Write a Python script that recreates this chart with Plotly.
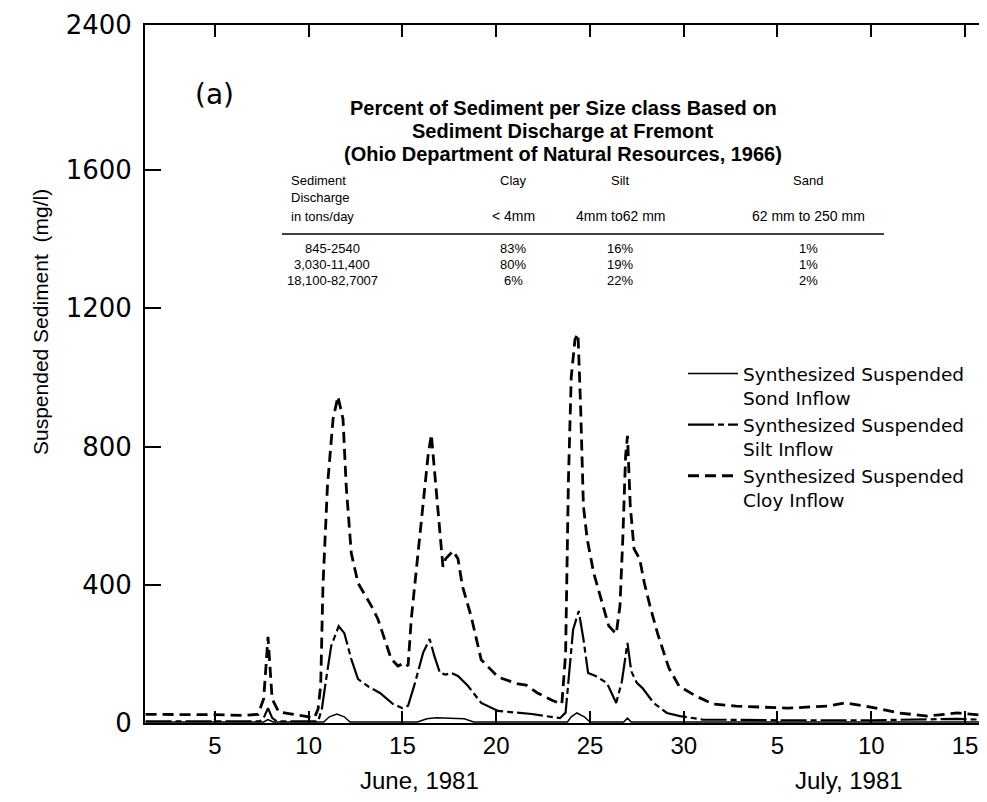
import plotly.graph_objects as go

# days counted from June 1 (July d -> 30 + d); values in mg/l
clay_day = [1.3, 3.0, 5.0, 6.5, 7.3, 7.6, 7.83, 8.05, 8.4, 9.5, 10.3, 10.5, 10.64, 10.76, 11.0, 11.3,
            11.56, 11.83, 12.0, 12.27, 12.63, 13.34, 13.69, 14.4, 14.76, 15.12, 15.3, 15.47, 15.83,
            16.1, 16.36, 16.54, 16.72, 16.98, 17.16, 17.3, 17.7, 17.96, 18.2, 18.67, 19.2, 20.1,
            21.16, 21.6, 22.2, 23.0, 23.5, 23.7, 23.85, 24.0, 24.2, 24.36, 24.5, 24.65, 24.85, 25.2,
            25.7, 26.0, 26.4, 26.6, 26.75, 26.9, 27.0, 27.15, 27.35, 27.65, 27.9, 28.2, 28.6, 29.2,
            29.75, 30.65, 31.55, 32.8, 35.5, 37.7, 38.6, 39.7, 41.5, 43.0, 44.6, 46.3, 46.8]
clay_val = [25, 25, 24, 22, 25, 70, 249, 70, 32, 22, 15, 40, 110, 396, 686, 880,
            945, 880, 686, 492, 405, 339, 301, 185, 165, 174, 165, 301, 492,
            646, 771, 835, 719, 574, 452, 475, 498, 475, 396, 307, 183, 133,
            113, 110, 87, 65, 55, 200, 700, 1000, 1110, 1126, 918, 628, 533, 434,
            339, 281, 258, 339, 533, 773, 831, 628, 504, 475, 405, 339, 260, 160,
            107, 78, 55, 49, 43, 49, 58, 49, 29, 20, 29, 20, 18]

silt_day = [1.3, 7.4, 7.6, 7.83, 8.05, 8.3, 10.5, 10.7, 10.9, 11.2, 11.6, 11.9, 12.27, 12.63, 13.2,
            13.8, 14.5, 15.0, 15.3, 15.67, 16.1, 16.45, 16.7, 17.0, 17.3, 17.6, 17.96, 18.5, 19.2,
            20.1, 21.9, 23.4, 23.7, 23.9, 24.1, 24.4, 24.65, 24.9, 25.3, 25.9, 26.4, 26.7, 27.0,
            27.2, 27.5, 27.8, 28.4, 29.1, 29.8, 31.0, 35.0, 40.0, 44.6, 46.8]
silt_val = [5, 5, 15, 43, 15, 5, 5, 40, 116, 223, 280, 260, 185, 127, 105,
            87, 55, 43, 50, 116, 203, 243, 194, 145, 140, 145, 136, 107, 58,
            35, 26, 14, 30, 150, 270, 324, 243, 145, 136, 116, 58, 120, 232,
            150, 116, 101, 58, 29, 20, 10, 8, 8, 12, 8]

sand_day = [1.3, 7.6, 7.83, 8.1, 10.8, 11.1, 11.5, 11.9, 12.2, 15.8, 16.3, 16.8, 18.3, 18.8,
            23.8, 24.0, 24.3, 24.7, 25.0, 26.8, 27.0, 27.2, 46.8]
sand_val = [3, 3, 10, 3, 3, 18, 26, 18, 3, 3, 12, 15, 12, 3,
            3, 18, 29, 18, 3, 3, 14, 3, 3]

x_tick_vals = [5, 10, 15, 20, 25, 30, 35, 40, 45]
x_tick_text = ["5", "10", "15", "20", "25", "30", "5", "10", "15"]
y_tick_vals = [0, 400, 800, 1200, 1600, 2020]
y_tick_text = ["0", "400", "800", "1200", "1600", "2400"]
months = ["June, 1981", "July, 1981"]
month_day = [15.9, 38.8]

table_title = ["Percent of Sediment per Size class Based on",
               "Sediment Discharge at Fremont",
               "(Ohio Department of Natural Resources, 1966)"]
head_first = ["Sediment", "Discharge", "in tons/day"]
head_cols = ["Clay", "Silt", "Sand"]
head_units = ["< 4mm", "4mm to62 mm", "62 mm to 250 mm"]
row_labels = ["845-2540", "3,030-11,400", "18,100-82,7007"]
clay_pct = ["83%", "80%", "6%"]
silt_pct = ["16%", "19%", "22%"]
sand_pct = ["1%", "1%", "2%"]

W, H = 987, 802
L, R, T, B = 137, 0, 17, 87


def px(x):
    return (x - L) / (W - L - R)


def py(y):
    return (H - B - y) / (H - T - B)


fig = go.Figure()
fig.add_trace(go.Scatter(x=sand_day, y=sand_val, mode="lines",
                         name="Synthesized Suspended<br>Sond Inflow",
                         line=dict(color="black", width=1.5)))
fig.add_trace(go.Scatter(x=silt_day, y=silt_val, mode="lines",
                         name="Synthesized Suspended<br>Silt Inflow",
                         line=dict(color="black", width=2.2, dash="26px,4px,6px,4px")))
fig.add_trace(go.Scatter(x=clay_day, y=clay_val, mode="lines",
                         name="Synthesized Suspended<br>Cloy Inflow",
                         line=dict(color="black", width=2.8, dash="11px,6px")))
# right-hand tick marks only
fig.add_trace(go.Scatter(x=[None], y=[None], yaxis="y2", showlegend=False))

tf = "Liberation Sans"
ann = []
ann.append(dict(text="(a)", x=px(206), y=py(86), font=dict(size=28, family="DejaVu Sans")))
ann.append(dict(text="Suspended Sediment  (mg/l)", x=px(32), y=py(314), textangle=-90,
                font=dict(size=21, family=tf)))
for i, t in enumerate(table_title):
    ann.append(dict(text="<b>" + t + "</b>", x=px(555), y=py(100 + 23 * i),
                    font=dict(size=20, family=tf)))
for i, t in enumerate(head_first):
    ann.append(dict(text=t, x=px(281), y=py(172 + 18 * i), xanchor="left",
                    font=dict(size=13, family=tf)))
col_x = [505, 612, 800]
for cx, h, u in zip(col_x, head_cols, head_units):
    ann.append(dict(text=h, x=px(cx), y=py(172), font=dict(size=13, family=tf)))
    ann.append(dict(text=u, x=px(cx), y=py(208), font=dict(size=14, family=tf)))
for i in range(3):
    yy = py(240 + 16 * i)
    ann.append(dict(text=row_labels[i], x=px(324), y=yy, font=dict(size=13, family=tf)))
    for cx, col in zip(col_x, [clay_pct, silt_pct, sand_pct]):
        ann.append(dict(text=col[i], x=px(cx), y=yy, font=dict(size=13, family=tf)))
for d, m in zip(month_day, months):
    ann.append(dict(text=m, x=d, xref="x", y=py(772), font=dict(size=24, family=tf)))
for a in ann:
    a.setdefault("xref", "paper")
    a.setdefault("yref", "paper")
    a.setdefault("xanchor", "center")
    a["yanchor"] = "middle"
    a["showarrow"] = False
    a["font"]["color"] = "black"

fig.update_layout(
    width=W, height=H,
    margin=dict(l=L, r=R, t=T, b=B),
    plot_bgcolor="white", paper_bgcolor="white",
    annotations=ann,
    shapes=[dict(type="line", xref="paper", yref="paper", x0=px(274), x1=px(876),
                 y0=py(226), y1=py(226), line=dict(color="black", width=1.5))],
    xaxis=dict(range=[1.27, 46.6], tickvals=x_tick_vals, ticktext=x_tick_text,
               showline=True, linecolor="black", linewidth=2, mirror="ticks",
               ticks="inside", ticklen=12, tickcolor="black", tickwidth=1.5,
               showgrid=False, zeroline=False,
               tickfont=dict(size=24, family=tf, color="black")),
    yaxis=dict(range=[0, 2020], tickvals=y_tick_vals, ticktext=y_tick_text,
               showline=True, linecolor="black", linewidth=2,
               ticks="inside", ticklen=16, tickcolor="black", tickwidth=1.5,
               ticklabelstandoff=6, showgrid=False, zeroline=False,
               tickfont=dict(size=26, family="DejaVu Sans", color="black")),
    yaxis2=dict(range=[0, 2020], overlaying="y", side="right", tickvals=[400, 800, 1200, 1600],
                showticklabels=False, ticks="inside", ticklen=12, tickcolor="black", tickwidth=2,
                showline=False, showgrid=False, zeroline=False),
    legend=dict(x=px(675), y=py(347), xanchor="left", yanchor="top", valign="top",
                itemwidth=50,
                font=dict(size=18.5, family="DejaVu Sans", color="black"),
                bgcolor="rgba(0,0,0,0)"),
    showlegend=True,
)

fig.write_html("out.html")
